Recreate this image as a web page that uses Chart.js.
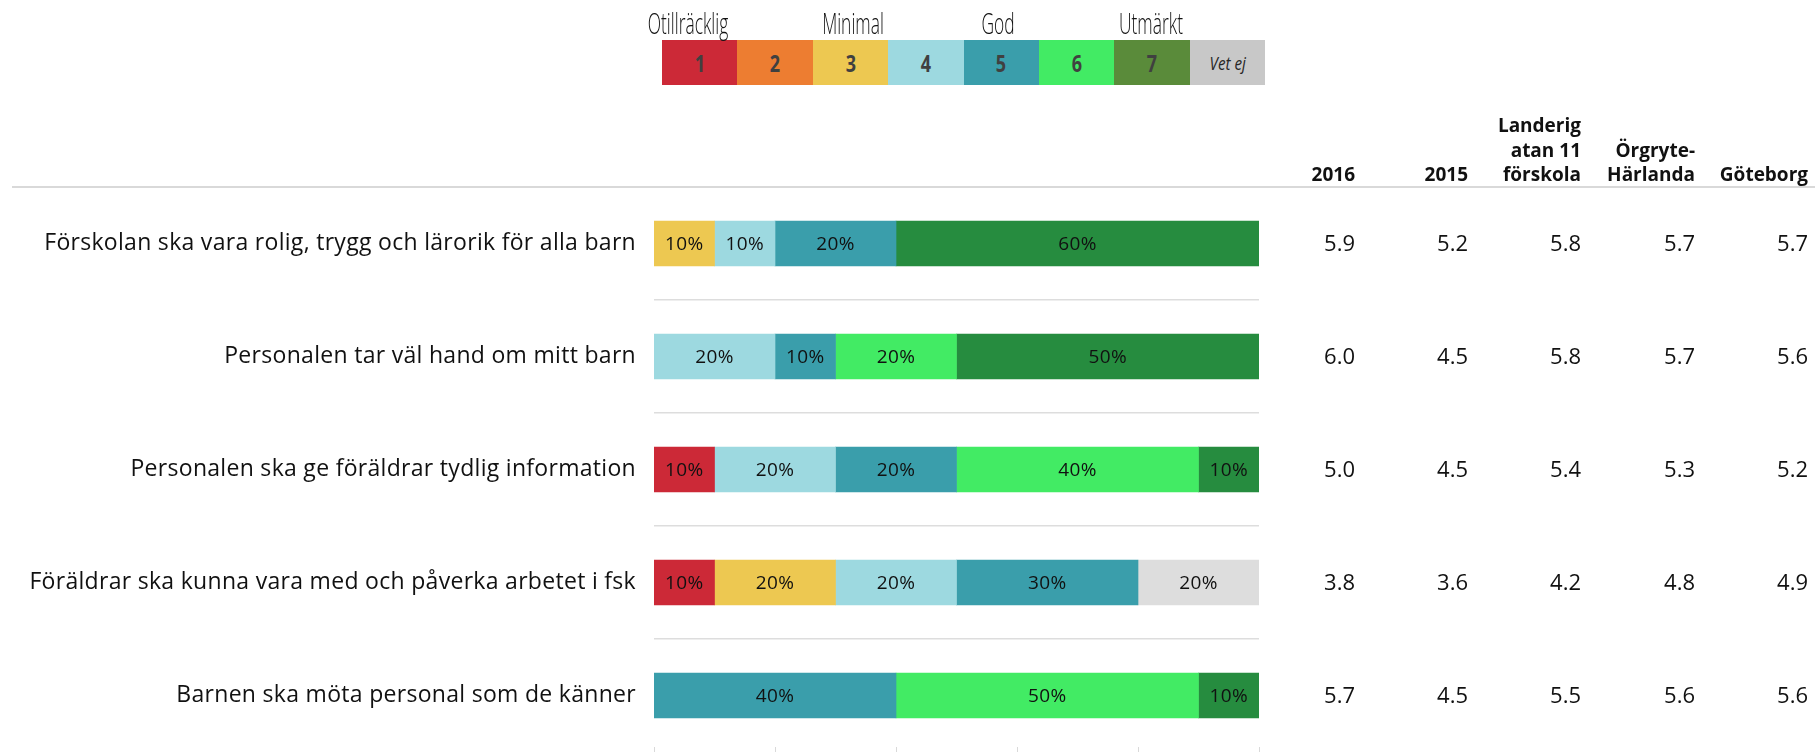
<!DOCTYPE html>
<html>
<head>
<meta charset="utf-8">
<script src="https://cdn.jsdelivr.net/npm/chart.js@4"></script>
<style>
  html, body { margin: 0; padding: 0; background: #fff; overflow: hidden; }
  #wrap { position: relative; width: 1815px; height: 752px; }
  #chart { position: absolute; left: 0; top: 0; }
  #scale { position: absolute; left: 662px; top: 40px; display: flex; }
  #scale .box { width: 75.4px; height: 45px; display: flex; align-items: center; justify-content: center;
    font: bold 24px "Open Sans", sans-serif; color: #404040; }
  #scale .box span { display: inline-block; transform: scaleX(0.75); }
  #scale .box.vet span { font: italic 19px "Open Sans", sans-serif; color: #262626; transform: scaleX(0.8); }
  .grade { position: absolute; top: 8px; font: 300 29px "Open Sans", sans-serif; line-height: 29px;
    color: #111; white-space: nowrap; transform: translateX(-50%) scaleX(0.6); }
</style>
</head>
<body>
<div id="wrap">
  <canvas id="chart" width="1815" height="752"></canvas>
  <div id="scale"></div>
</div>
<script>
// Questions (rows)
const categories = [
  "Förskolan ska vara rolig, trygg och lärorik för alla barn",
  "Personalen tar väl hand om mitt barn",
  "Personalen ska ge föräldrar tydlig information",
  "Föräldrar ska kunna vara med och påverka arbetet i fsk",
  "Barnen ska möta personal som de känner"
];

// Share of answers per grade, in percent
const level1 = [0, 0, 10, 10, 0];
const level2 = [0, 0, 0, 0, 0];
const level3 = [10, 0, 0, 20, 0];
const level4 = [10, 20, 20, 20, 0];
const level5 = [20, 10, 20, 30, 40];
const level6 = [0, 20, 40, 0, 50];
const level7 = [60, 50, 10, 0, 10];
const vetEj = [0, 0, 0, 20, 0];

// Mean values shown in the table to the right
const columnHeaders = [["2016"], ["2015"], ["Landerig", "atan 11", "förskola"], ["Örgryte-", "Härlanda"], ["Göteborg"]];
const v2016 = [5.9, 6.0, 5.0, 3.8, 5.7];
const v2015 = [5.2, 4.5, 4.5, 3.6, 4.5];
const vLanderigatan = [5.8, 5.8, 5.4, 4.2, 5.5];
const vOrgryte = [5.7, 5.7, 5.3, 4.8, 5.6];
const vGoteborg = [5.7, 5.6, 5.2, 4.9, 5.6];

// Legend scale on top
const levelNames = ["1", "2", "3", "4", "5", "6", "7", "Vet ej"];
const gradeNames = ["Otillräcklig", "Minimal", "God", "Utmärkt"];

const legendColors = ["#CC2937", "#ED7D31", "#EDC851", "#9DD9E0", "#3A9EAB", "#42EB64", "#5A8B3A", "#C8C8C8"];
const barColors = ["#CC2937", "#ED7D31", "#EDC851", "#9DD9E0", "#3A9EAB", "#42EB64", "#268C3F", "#DDDDDD"];

const FONT = '"Open Sans", sans-serif';

// Build the grade legend above the chart
const scaleDiv = document.getElementById("scale");
levelNames.forEach((name, i) => {
  const box = document.createElement("div");
  box.className = "box" + (name === "Vet ej" ? " vet" : "");
  box.style.background = legendColors[i];
  const span = document.createElement("span");
  span.textContent = name;
  box.appendChild(span);
  scaleDiv.appendChild(box);
});
const gradeCenters = [688, 853, 998, 1151];
gradeNames.forEach((name, i) => {
  const el = document.createElement("div");
  el.className = "grade";
  el.style.left = gradeCenters[i] + "px";
  el.textContent = name;
  document.getElementById("wrap").appendChild(el);
});

const series = [level1, level2, level3, level4, level5, level6, level7, vetEj];

// Slightly spaced text, like the original
const spacing = {
  id: "spacing",
  beforeDraw(chart) { chart.ctx.letterSpacing = "0.3px"; },
  afterDraw(chart) { chart.ctx.letterSpacing = "0px"; }
};

// Percent labels inside every segment
const segmentLabels = {
  id: "segmentLabels",
  afterDatasetsDraw(chart) {
    const ctx = chart.ctx;
    ctx.save();
    ctx.font = "19px " + FONT;
    ctx.fillStyle = "#111";
    ctx.textAlign = "center";
    ctx.textBaseline = "middle";
    chart.data.datasets.forEach((ds, i) => {
      chart.getDatasetMeta(i).data.forEach((bar, j) => {
        const v = ds.data[j];
        if (!v) return;
        const p = bar.getCenterPoint();
        ctx.fillText(v + "%", p.x, p.y + 1);
      });
    });
    ctx.restore();
  }
};

// Header line, table of mean values and small ticks under the bars
const sideTable = {
  id: "sideTable",
  afterDraw(chart) {
    const ctx = chart.ctx;
    const area = chart.chartArea;
    const yScale = chart.scales.y;
    const xScale = chart.scales.x;
    const columns = [v2016, v2015, vLanderigatan, vOrgryte, vGoteborg];
    const rightEdges = [1355, 1468, 1581, 1695, 1808];
    ctx.save();

    ctx.strokeStyle = "#D9D9D9";
    ctx.lineWidth = 2;
    ctx.beginPath();
    ctx.moveTo(12, 187);
    ctx.lineTo(1815, 187);
    ctx.stroke();

    ctx.lineWidth = 1;
    for (let v = 0; v <= 100; v += 20) {
      const x = Math.round(xScale.getPixelForValue(v)) + 0.5;
      ctx.beginPath();
      ctx.moveTo(x, 747);
      ctx.lineTo(x, 752);
      ctx.stroke();
    }

    ctx.textAlign = "right";
    ctx.textBaseline = "alphabetic";
    ctx.fillStyle = "#111";
    ctx.font = "bold 19px " + FONT;
    columnHeaders.forEach((lines, c) => {
      lines.forEach((line, k) => {
        const y = 181 - (lines.length - 1 - k) * 24.5;
        ctx.fillText(line, rightEdges[c], y);
      });
    });

    ctx.font = "22px " + FONT;
    ctx.textBaseline = "middle";
    columns.forEach((col, c) => {
      col.forEach((v, r) => {
        ctx.fillText(v.toFixed(1), rightEdges[c], yScale.getPixelForValue(r) + 1);
      });
    });
    ctx.restore();
  }
};

new Chart(document.getElementById("chart"), {
  type: "bar",
  data: {
    labels: categories,
    datasets: series.map((data, i) => ({
      label: levelNames[i],
      data: data.map(v => v || null),
      backgroundColor: barColors[i],
      borderWidth: 0,
      barThickness: 45
    }))
  },
  options: {
    indexAxis: "y",
    responsive: false,
    animation: false,
    devicePixelRatio: 1,
    layout: { padding: { top: 187, right: 556, bottom: 0, left: 0 } },
    plugins: { legend: { display: false }, tooltip: { enabled: false } },
    scales: {
      x: {
        stacked: true,
        min: 0,
        max: 100,
        display: false
      },
      y: {
        stacked: true,
        border: { display: false },
        grid: {
          lineWidth: 1.5,
          drawTicks: false,
          color: (c) => (c.index >= 1 && c.index <= 4) ? "#DDDDDD" : "rgba(0,0,0,0)"
        },
        ticks: {
          padding: 18,
          color: "#111",
          font: { family: "Open Sans", size: 23 }
        },
        afterFit: (scale) => {
          scale.width = 654;
          scale.paddingTop = 0;
          scale.paddingBottom = 0;
        }
      }
    }
  },
  plugins: [spacing, segmentLabels, sideTable]
});
</script>
</body>
</html>
